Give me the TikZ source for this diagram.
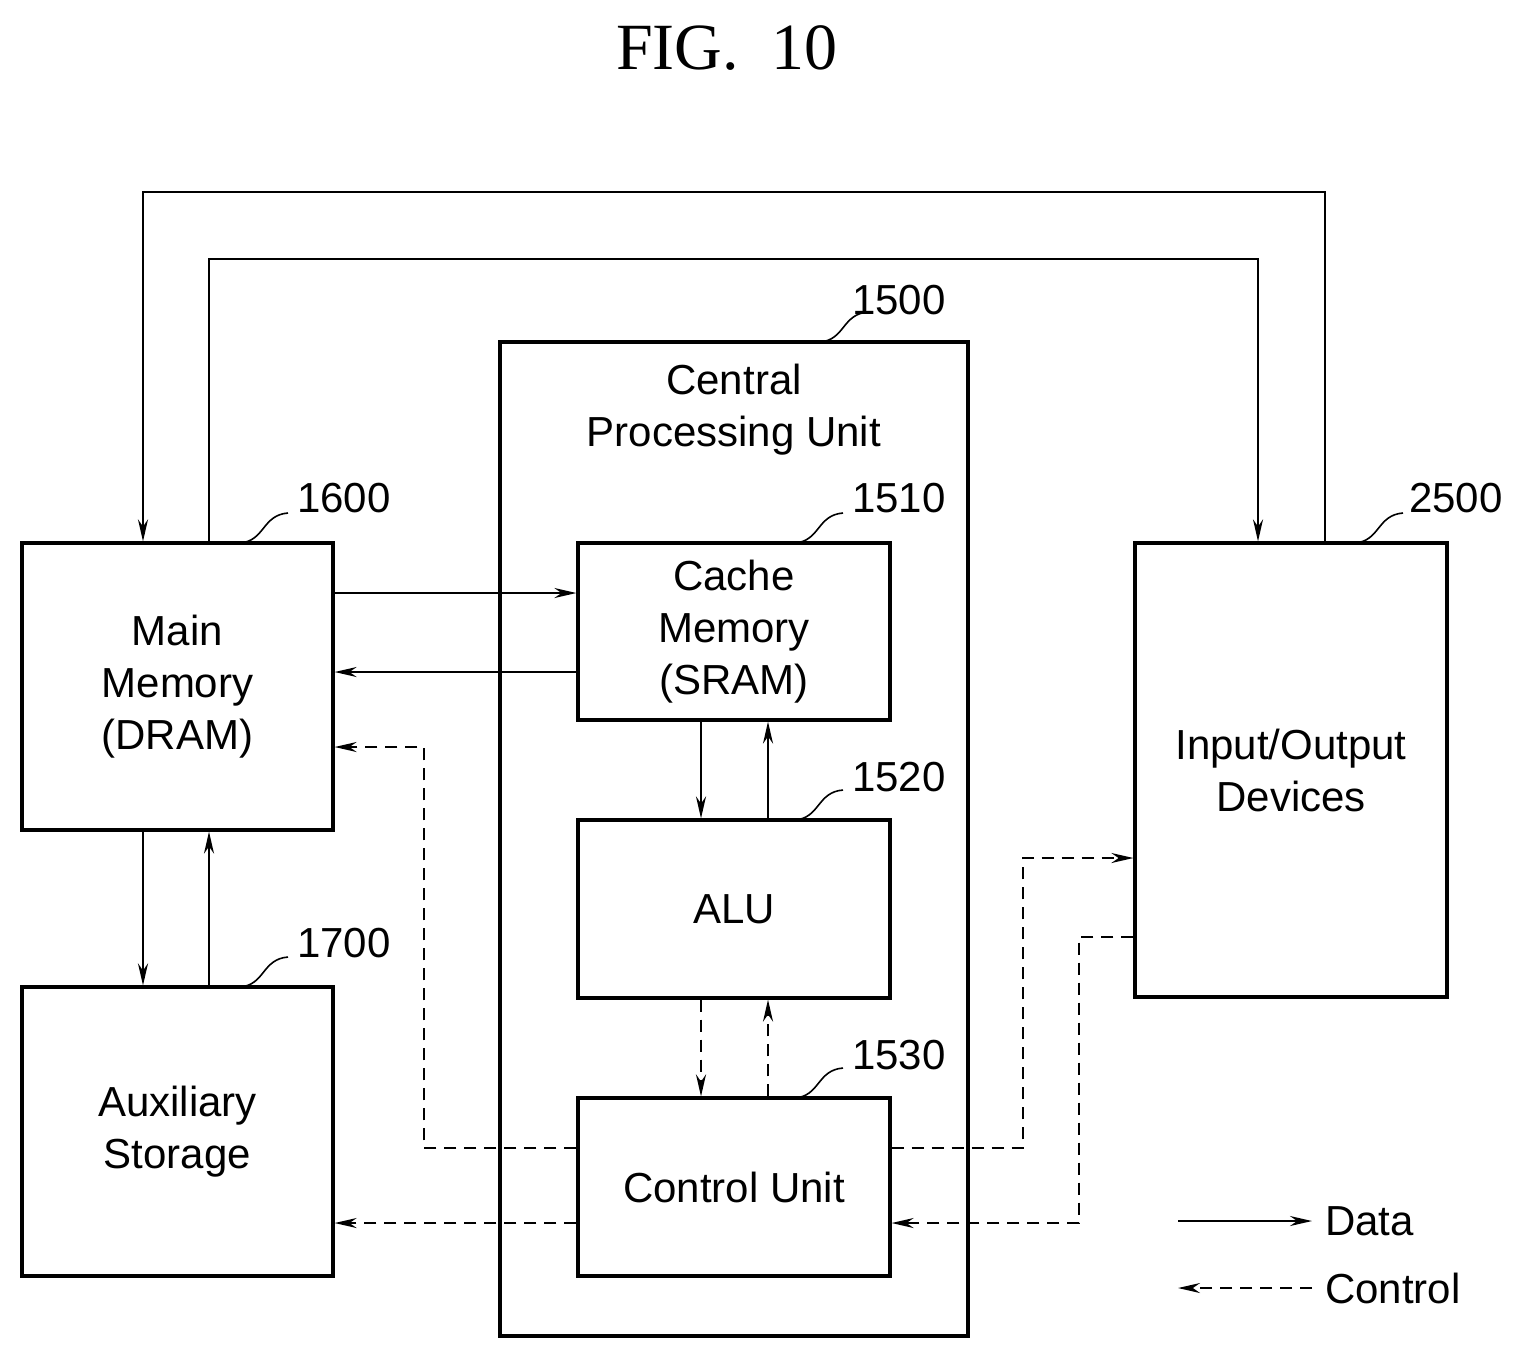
\documentclass[tikz,border=0pt]{standalone}
\usepackage{fontspec}
\setmainfont{Liberation Sans}
\newfontfamily\serif{Liberation Serif}
\usetikzlibrary{arrows.meta}
\begin{document}
\begin{tikzpicture}[x=0.5pt,y=-0.5pt,
  box/.style={draw,line width=1.6pt},
  con/.style={line width=1.1pt,-{Stealth[length=11pt,width=5pt]}},
  ctl/.style={con,dash pattern=on 6pt off 4pt},
  lab/.style={font=\fontsize{21}{26}\selectfont,align=center},
  num/.style={font=\fontsize{21}{26}\selectfont,anchor=west},
  lead/.style={line width=0.8pt}]
\useasboundingbox (0,0) rectangle (1534,1362);
\node[font=\serif\fontsize{33}{36}\selectfont] (title) at (727,48) {FIG.\ \ 10};
% boxes
\draw[box] (500,342) rectangle (968,1336);
\node[lab] (cpu) at (734,410) {Central\\Processing Unit};
\node[box,lab,minimum width=155.5pt,minimum height=143.5pt] (mm) at (177.5,686.5) {Main\\Memory\\(DRAM)};
\node[box,lab,minimum width=155.5pt,minimum height=144.5pt] (aux) at (177.5,1131.5) {Auxiliary\\Storage};
\node[box,lab,minimum width=156pt,minimum height=88.5pt] (cache) at (734,631.5) {Cache\\Memory\\(SRAM)};
\node[box,lab,minimum width=156pt,minimum height=89pt] (alu) at (734,909) {ALU};
\node[box,lab,minimum width=156pt,minimum height=89pt] (cu) at (734,1187) {Control Unit};
\node[box,lab,minimum width=156pt,minimum height=227pt] (io) at (1291,770) {Input/Output\\Devices};
% numbers
\node[num] (n1500) at (845,300) {1500};
\node[num] (n1600) at (290,498) {1600};
\node[num] (n1510) at (845,498) {1510};
\node[num] (n1520) at (845,777) {1520};
\node[num] (n1700) at (290,943) {1700};
\node[num] (n1530) at (845,1055) {1530};
\node[num] (n2500) at (1402,498) {2500};
\foreach \a/\b in {820/342, 240/543, 795/543, 795/820, 240/987, 795/1098, 1355/543}{
  \draw[lead] (\a,\b) .. controls (\a+25,\b-2) and (\a+22,\b-28) .. (\a+48,\b-30);}
% data connectors
\coordinate (t1) at (1325,192); \coordinate (t2) at (143,192);
\draw[con] (io.north -| t1) -- (t1) -- (t2) -- (mm.north -| t2);
\coordinate (u1) at (209,259); \coordinate (u2) at (1258,259);
\draw[con] (mm.north -| u1) -- (u1) -- (u2) -- (io.north -| u2);
\coordinate (a1) at (0,593); \coordinate (a2) at (0,672);
\draw[con] (mm.east |- a1) -- (cache.west |- a1);
\draw[con] (cache.west |- a2) -- (mm.east |- a2);
\coordinate (b1) at (701,0); \coordinate (b2) at (768,0);
\draw[con] (cache.south -| b1) -- (alu.north -| b1);
\draw[con] (alu.north -| b2) -- (cache.south -| b2);
\coordinate (c1) at (143,0); \coordinate (c2) at (209,0);
\draw[con] (mm.south -| c1) -- (aux.north -| c1);
\draw[con] (aux.north -| c2) -- (mm.south -| c2);
% control
\draw[ctl] (alu.south -| b1) -- (cu.north -| b1);
\draw[ctl] (cu.north -| b2) -- (alu.south -| b2);
\coordinate (d1) at (424,1148); \coordinate (d2) at (424,747);
\draw[ctl] (cu.west |- d1) -- (d1) -- (d2) -- (mm.east |- d2);
\coordinate (e1) at (0,1223);
\draw[ctl] (cu.west |- e1) -- (aux.east |- e1);
\coordinate (f1) at (1023,1148); \coordinate (f2) at (1023,858);
\draw[ctl] (cu.east |- f1) -- (f1) -- (f2) -- (io.west |- f2);
\coordinate (g1) at (1079,937); \coordinate (g2) at (1079,1223);
\draw[ctl] (io.west |- g1) -- (g1) -- (g2) -- (cu.east |- g2);
% legend
\coordinate (l1) at (1178,1221); \coordinate (l2) at (1312,1221);
\draw[con] (l1) -- (l2);
\node[num] (ldata) at (1318,1221) {Data};
\coordinate (m1) at (1178,1288); \coordinate (m2) at (1312,1288);
\draw[ctl] (m2) -- (m1);
\node[num] (lctl) at (1318,1288) {Control};
\end{tikzpicture}
\end{document}
